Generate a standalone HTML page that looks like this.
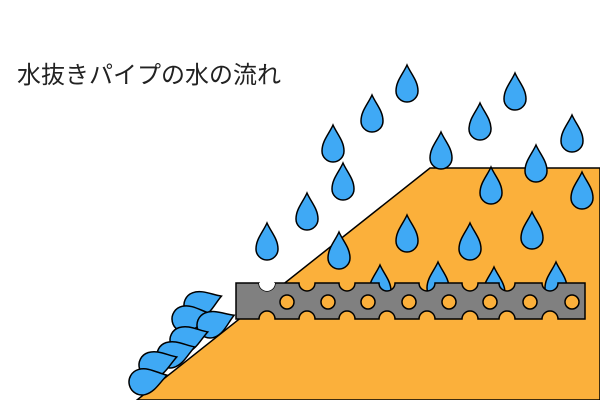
<!DOCTYPE html>
<html><head><meta charset="utf-8"><style>body{margin:0;background:#fff}svg{display:block}</style></head>
<body>
<svg width="600" height="400" viewBox="0 0 600 400" xmlns="http://www.w3.org/2000/svg">
<defs>
<path id="d" d="M0,-26 C4,-17 11,-10 11,0 A11,11 0 0 1 -11,0 C-11,-10 -4,-17 0,-26Z" fill="#3fa9f5" stroke="#000" stroke-width="1.5"/>
<path id="s" d="M0,-26 C5,-17 13,-10 13,0 A13,13 0 0 1 -13,0 C-13,-10 -5,-17 0,-26Z" fill="#3fa9f5" stroke="#000" stroke-width="1.5"/>
</defs>
<text x="17" y="83" font-family="'Liberation Sans','Noto Sans CJK JP',sans-serif" font-size="24" fill="#222">水抜きパイプの水の流れ</text>
<polygon points="137,400 430,168 600,168 600,400" fill="#fbb03b" stroke="#000" stroke-width="1.5"/>
<g>
<use href="#d" x="407" y="91"/><use href="#d" x="515" y="99"/><use href="#d" x="372" y="121"/>
<use href="#d" x="480" y="129"/><use href="#d" x="333" y="151"/><use href="#d" x="441" y="158"/>
<use href="#d" x="572" y="141"/><use href="#d" x="536" y="171"/><use href="#d" x="343" y="189"/>
<use href="#d" x="491" y="193"/><use href="#d" x="582" y="198"/><use href="#d" x="307" y="219"/>
<use href="#d" x="407" y="241"/><use href="#d" x="470" y="249"/><use href="#d" x="532" y="238"/>
<use href="#d" x="267" y="249"/><use href="#d" x="339" y="258"/>
<use href="#d" x="380" y="291"/><use href="#d" x="438" y="288"/><use href="#d" x="494" y="293"/><use href="#d" x="556" y="288"/>
</g>
<g>
<use href="#s" transform="translate(197,305) rotate(70)"/>
<use href="#s" transform="translate(185,319) rotate(78)"/>
<use href="#s" transform="translate(210,325) rotate(68)"/>
<use href="#s" transform="translate(183,340) rotate(72)"/>
<use href="#s" transform="translate(170,355) rotate(72)"/>
<use href="#s" transform="translate(152,365) rotate(72)"/>
<use href="#s" transform="translate(142,382) rotate(75)"/>
</g>
<path fill="#808080" stroke="#000" stroke-width="1.5" d="M236,283 H259 A8,8 0 0 0 275,283 H299 A8,8 0 0 0 315,283 H339 A8,8 0 0 0 355,283 H379 A8,8 0 0 0 395,283 H419 A8,8 0 0 0 435,283 H462 A8,8 0 0 0 478,283 H499 A8,8 0 0 0 515,283 H542 A8,8 0 0 0 558,283 H585 V319 H558 A8,8 0 0 0 542,319 H515 A8,8 0 0 0 499,319 H478 A8,8 0 0 0 462,319 H435 A8,8 0 0 0 419,319 H395 A8,8 0 0 0 379,319 H355 A8,8 0 0 0 339,319 H315 A8,8 0 0 0 299,319 H275 A8,8 0 0 0 259,319 H236 Z"/>
<g fill="#fbb03b" stroke="#000" stroke-width="1.5">
<circle cx="287" cy="302" r="7"/><circle cx="328" cy="302" r="7"/><circle cx="368" cy="302" r="7"/>
<circle cx="409" cy="302" r="7"/><circle cx="449" cy="302" r="7"/><circle cx="490" cy="302" r="7"/>
<circle cx="530" cy="302" r="7"/><circle cx="572" cy="302" r="7"/>
</g>
<path d="M259,283 A8,8 0 0 0 275,283Z" fill="#fff"/>
</svg>
</body></html>
